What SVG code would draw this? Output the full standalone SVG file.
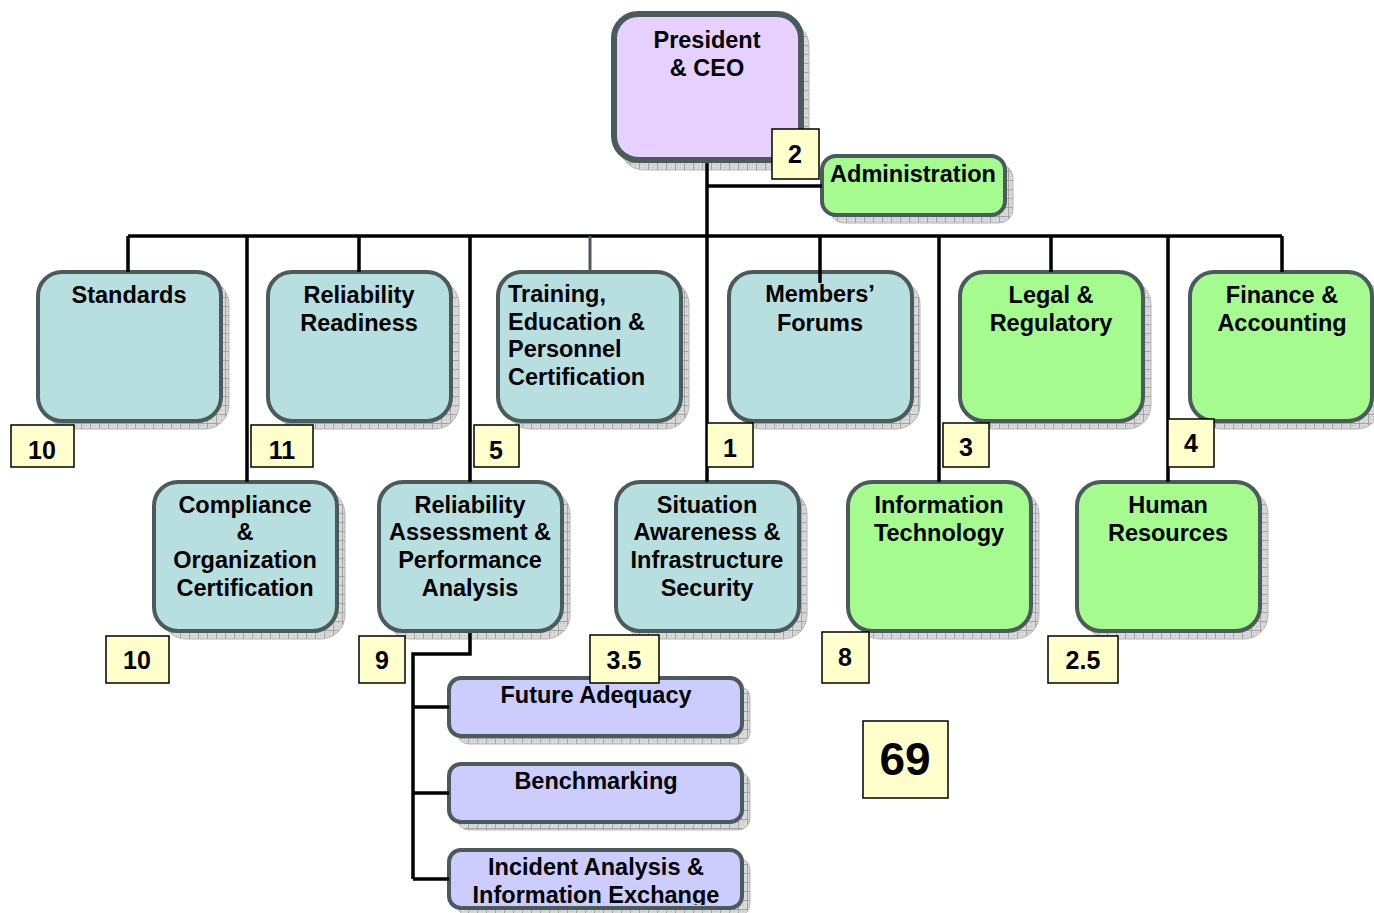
<svg xmlns="http://www.w3.org/2000/svg" width="1374" height="913" viewBox="0 0 1374 913">
<defs>
<pattern id="hatch" width="9" height="9" patternUnits="userSpaceOnUse">
<rect width="9" height="9" fill="#d9d9d9"/>
<path d="M0 0.5H9M0.5 0V9" stroke="#a3a3a3" stroke-width="1"/>
<path d="M2 2h1v1h-1zM5 5h1v1h-1zM2 5h1v1h-1zM5 2h1v1h-1z" fill="#bdbdbd"/>
</pattern>
<clipPath id="clipInc"><rect x="440" y="840" width="320" height="65"/></clipPath>
<style>
.sh{fill:url(#hatch);stroke:#b5b5b5;stroke-width:1}
.box{stroke:#4b5a5b;stroke-width:4}
.teal{fill:#b8dfe0}
.green{fill:#a5fb8e}
.lav{fill:#ccccfe}
.ceo{fill:#e6d1fe;stroke:#4b5a5b;stroke-width:6}
.num{fill:#ffffcc;stroke:#000;stroke-width:1.5}
text{font-family:"Liberation Sans",Arial,sans-serif;font-weight:bold;fill:#000}
.t{font-size:23.5px;text-anchor:middle}
.tl{font-size:23.5px;text-anchor:start}
.n{font-size:25px;text-anchor:middle}
.big{font-size:46px;text-anchor:middle}
.conn path{fill:none;stroke:#000;stroke-width:3.5}
</style>
</defs>

<g id="shadows">
<rect class="sh" x="620" y="22" width="189" height="148" rx="24"/>
<rect class="sh" x="830" y="164" width="183" height="59" rx="14"/>
<rect class="sh" x="46" y="280" width="183" height="149" rx="24"/>
<rect class="sh" x="276" y="280" width="183" height="149" rx="24"/>
<rect class="sh" x="506" y="280" width="183" height="149" rx="24"/>
<rect class="sh" x="737" y="280" width="183" height="149" rx="24"/>
<rect class="sh" x="968" y="280" width="183" height="149" rx="24"/>
<rect class="sh" x="1198" y="280" width="183" height="149" rx="24"/>
<rect class="sh" x="162" y="490" width="183" height="149" rx="24"/>
<rect class="sh" x="387" y="490" width="183" height="149" rx="24"/>
<rect class="sh" x="624" y="490" width="183" height="149" rx="24"/>
<rect class="sh" x="856" y="490" width="183" height="149" rx="24"/>
<rect class="sh" x="1085" y="490" width="183" height="149" rx="24"/>
<rect class="sh" x="457" y="686" width="293" height="58" rx="12"/>
<rect class="sh" x="457" y="772" width="293" height="58" rx="12"/>
<rect class="sh" x="457" y="858" width="293" height="58" rx="12"/>
</g>

<g id="ceo">
<rect class="ceo" x="614" y="14" width="187" height="146" rx="24"/>
<text class="t" x="707" y="48">President</text>
<text class="t" x="707" y="76">&amp; CEO</text>
</g>

<g id="administration">
<rect class="box green" x="822" y="156" width="183" height="59" rx="14"/>
<text class="t" x="913" y="182">Administration</text>
</g>

<g id="standards">
<rect class="box teal" x="38" y="272" width="183" height="149" rx="24"/>
<text class="t" x="129" y="303">Standards</text>
</g>

<g id="reliability-readiness">
<rect class="box teal" x="268" y="272" width="183" height="149" rx="24"/>
<text class="t" x="359" y="303">Reliability</text>
<text class="t" x="359" y="331">Readiness</text>
</g>

<g id="training">
<rect class="box teal" x="498" y="272" width="183" height="149" rx="24"/>
<text class="tl" x="508" y="302">Training,</text>
<text class="tl" x="508" y="330">Education &amp;</text>
<text class="tl" x="508" y="357">Personnel</text>
<text class="tl" x="508" y="385">Certification</text>
</g>

<g id="members-forums">
<rect class="box teal" x="729" y="272" width="183" height="149" rx="24"/>
<text class="t" x="820" y="302">Members’</text>
<text class="t" x="820" y="331">Forums</text>
</g>

<g id="legal">
<rect class="box green" x="960" y="272" width="183" height="149" rx="24"/>
<text class="t" x="1051" y="303">Legal &amp;</text>
<text class="t" x="1051" y="331">Regulatory</text>
</g>

<g id="finance">
<rect class="box green" x="1190" y="272" width="182" height="149" rx="24"/>
<text class="t" x="1282" y="303">Finance &amp;</text>
<text class="t" x="1282" y="331">Accounting</text>
</g>

<g id="compliance">
<rect class="box teal" x="154" y="482" width="183" height="149" rx="24"/>
<text class="t" x="245" y="513">Compliance</text>
<text class="t" x="245" y="540">&amp;</text>
<text class="t" x="245" y="568">Organization</text>
<text class="t" x="245" y="596">Certification</text>
</g>

<g id="reliability-assessment">
<rect class="box teal" x="379" y="482" width="183" height="149" rx="24"/>
<text class="t" x="470" y="513">Reliability</text>
<text class="t" x="470" y="540">Assessment &amp;</text>
<text class="t" x="470" y="568">Performance</text>
<text class="t" x="470" y="596">Analysis</text>
</g>

<g id="situation-awareness">
<rect class="box teal" x="616" y="482" width="183" height="149" rx="24"/>
<text class="t" x="707" y="513">Situation</text>
<text class="t" x="707" y="540">Awareness &amp;</text>
<text class="t" x="707" y="568">Infrastructure</text>
<text class="t" x="707" y="596">Security</text>
</g>

<g id="information-technology">
<rect class="box green" x="848" y="482" width="183" height="149" rx="24"/>
<text class="t" x="939" y="513">Information</text>
<text class="t" x="939" y="541">Technology</text>
</g>

<g id="human-resources">
<rect class="box green" x="1077" y="482" width="183" height="149" rx="24"/>
<text class="t" x="1168" y="513">Human</text>
<text class="t" x="1168" y="541">Resources</text>
</g>

<g id="future-adequacy">
<rect class="box lav" x="449" y="678" width="293" height="58" rx="12"/>
<text class="t" x="596" y="703">Future Adequacy</text>
</g>

<g id="benchmarking">
<rect class="box lav" x="449" y="764" width="293" height="58" rx="12"/>
<text class="t" x="596" y="789">Benchmarking</text>
</g>

<g id="incident-analysis">
<rect class="box lav" x="449" y="850" width="293" height="58" rx="12"/>
<g clip-path="url(#clipInc)">
<text class="t" x="596" y="875">Incident Analysis &amp;</text>
<text class="t" x="596" y="903">Information Exchange</text>
</g>
</g>

<g id="connectors" class="conn">
<path d="M128 236H1282"/>
<path d="M707 163V482"/>
<path d="M707 186H822"/>
<path d="M128 236V272M359 236V272M1051 236V272M1282 236V272"/>
<path d="M590 236V272" style="stroke:#4b5a5b;stroke-width:3"/>
<path d="M820 236V283"/>
<path d="M247 236V482M470 236V482M939 236V482M1168 236V482"/>
<path d="M470 633V654H413V879"/>
<path d="M413 707H449M413 793H449M413 879H449"/>
</g>

<g id="counts">
<rect class="num" x="772" y="129" width="47" height="50"/><text class="n" x="795" y="163">2</text>
<rect class="num" x="11" y="425" width="63" height="42"/><text class="n" x="42" y="459">10</text>
<rect class="num" x="251" y="425" width="62" height="42"/><text class="n" x="282" y="459">11</text>
<rect class="num" x="474" y="425" width="45" height="42"/><text class="n" x="496" y="459">5</text>
<rect class="num" x="707" y="423" width="46" height="44"/><text class="n" x="730" y="457">1</text>
<rect class="num" x="943" y="423" width="46" height="44"/><text class="n" x="966" y="456">3</text>
<rect class="num" x="1168" y="419" width="46" height="48"/><text class="n" x="1191" y="452">4</text>
<rect class="num" x="106" y="636" width="63" height="47"/><text class="n" x="137" y="669">10</text>
<rect class="num" x="359" y="636" width="46" height="47"/><text class="n" x="382" y="669">9</text>
<rect class="num" x="590" y="635" width="69" height="48"/><text class="n" x="624" y="669">3.5</text>
<rect class="num" x="822" y="632" width="47" height="51"/><text class="n" x="845" y="666">8</text>
<rect class="num" x="1048" y="636" width="70" height="47"/><text class="n" x="1083" y="669">2.5</text>
<rect class="num" x="863" y="721" width="85" height="77"/><text class="big" x="905" y="775">69</text>
</g>
</svg>
